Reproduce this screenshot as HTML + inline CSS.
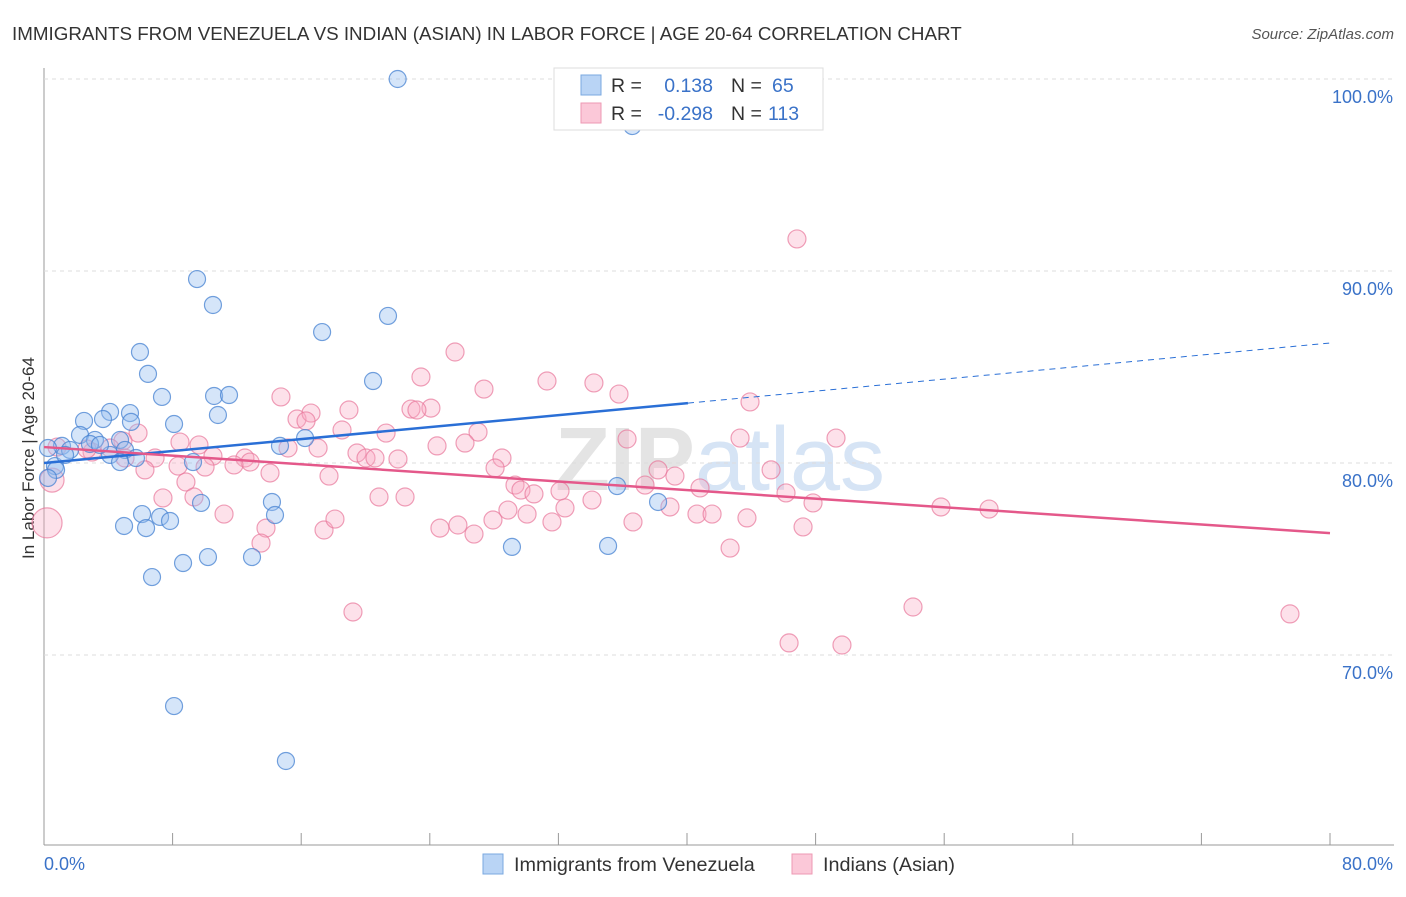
<!DOCTYPE html>
<html><head><meta charset="utf-8"><style>
body{margin:0;background:#fff;font-family:"Liberation Sans",sans-serif}
svg text{font-family:"Liberation Sans",sans-serif}
</style></head><body>
<svg width="1406" height="892" id="c">
<text x="12" y="40" font-size="18.8" fill="#333">IMMIGRANTS FROM VENEZUELA VS INDIAN (ASIAN) IN LABOR FORCE | AGE 20-64 CORRELATION CHART</text>
<text x="1394" y="39" font-size="15" fill="#555" font-style="italic" text-anchor="end">Source: ZipAtlas.com</text>
<text x="720" y="490" font-size="90" fill="#e4e4e4" text-anchor="middle" font-weight="bold">ZIP<tspan fill="#d6e4f5" font-weight="normal">atlas</tspan></text>
<text transform="translate(34,458) rotate(-90)" font-size="17" fill="#333" text-anchor="middle">In Labor Force | Age 20-64</text>
<g id="grid"></g><g id="pts"></g><g id="lines"></g>
<g>
<rect x="554" y="68" width="269" height="62" fill="#fff" stroke="#ddd"/>
<rect x="581" y="75" width="20" height="20" fill="#b9d4f5" stroke="#7aa8e0"/>
<rect x="581" y="103" width="20" height="20" fill="#fbc8d8" stroke="#ee99b3"/>
<text x="611" y="92" font-size="19.5" fill="#333">R =</text>
<text x="713" y="92" font-size="19.5" fill="#3a72c8" text-anchor="end">0.138</text>
<text x="731" y="92" font-size="19.5" fill="#333">N =</text>
<text x="772" y="92" font-size="19.5" fill="#3a72c8">65</text>
<text x="611" y="120" font-size="19.5" fill="#333">R =</text>
<text x="713" y="120" font-size="19.5" fill="#3a72c8" text-anchor="end">-0.298</text>
<text x="731" y="120" font-size="19.5" fill="#333">N =</text>
<text x="768" y="120" font-size="19.5" fill="#3a72c8">113</text>
</g>
<g>
<rect x="483" y="854" width="20" height="20" fill="#b9d4f5" stroke="#7aa8e0"/>
<text x="514" y="871" font-size="19.8" fill="#333">Immigrants from Venezuela</text>
<rect x="792" y="854" width="20" height="20" fill="#fbc8d8" stroke="#ee99b3"/>
<text x="823" y="871" font-size="19.8" fill="#333">Indians (Asian)</text>
</g>
</svg>
<script>
const blueX=[22.0,36.6,9.52,10.51,17.3,21.4,5.97,6.47,20.47,7.34,10.58,11.51,4.11,5.35,10.82,2.49,3.67,5.41,8.09,2.24,3.17,4.73,2.86,1.12,0.25,4.11,5.04,5.72,4.73,0.68,0.75,16.24,14.68,9.27,35.65,38.2,14.18,9.77,14.37,6.1,7.22,7.84,4.98,6.35,29.11,35.09,8.65,10.2,12.94,6.72,8.09,15.05,0.25,1.62,3.48,1.31];
const blueY=[100.0,97.55,89.58,88.23,86.82,87.66,85.78,84.64,84.27,83.44,83.49,83.54,82.66,82.6,82.5,82.19,82.29,82.14,82.03,81.46,81.2,81.2,80.99,80.89,80.78,80.42,80.68,80.26,80.05,79.84,79.64,81.3,80.89,80.05,78.8,77.97,77.97,77.92,77.29,77.34,77.19,76.98,76.72,76.61,75.63,75.68,74.79,75.1,75.1,74.06,67.34,64.48,79.22,80.68,80.94,80.42];
const pinkX=[46.84,25.57,23.45,31.29,34.21,27.37,35.77,14.74,43.92,22.83,24.07,18.97,23.2,15.74,16.61,16.3,18.54,27.0,21.28,36.27,43.3,49.27,5.85,8.46,4.91,15.18,17.05,24.45,26.19,9.64,0.81,2.99,4.11,6.91,10.51,12.5,19.47,20.03,20.59,22.02,28.49,12.82,11.82,8.34,6.28,28.06,14.06,17.73,45.23,38.2,39.25,10.02,29.3,29.67,30.48,32.1,37.39,40.81,8.83,7.4,9.33,20.84,22.46,34.09,28.86,32.41,11.2,13.81,13.5,17.42,18.1,24.63,25.75,26.75,27.93,30.05,31.6,36.64,38.94,40.62,41.56,43.73,46.16,47.84,47.22,42.68,55.8,58.79,19.22,54.06,46.35,49.64,77.51,0.19,0.5,2.67,5.04];
const pinkY=[91.67,85.78,84.48,84.27,84.17,83.85,83.59,83.44,83.18,82.81,82.86,82.76,82.76,82.29,82.6,82.19,81.72,81.61,81.56,81.25,81.3,81.3,81.56,81.09,81.15,80.78,80.78,80.89,81.04,80.94,80.83,80.57,80.78,80.26,80.36,80.26,80.52,80.26,80.26,80.21,80.26,80.05,79.9,79.84,79.64,79.74,79.48,79.32,79.64,79.64,79.32,79.79,78.85,78.59,78.39,78.54,78.85,78.7,79.01,78.18,78.23,78.23,78.23,78.07,77.55,77.66,77.34,76.61,75.83,76.51,77.08,76.61,76.77,76.3,77.03,77.34,76.93,76.93,77.71,77.34,77.34,77.14,78.44,77.92,76.67,75.57,77.71,77.6,72.24,72.5,70.63,70.52,72.14,76.88,79.11,80.73,80.26];
const yTicks=[100,90,80,70];
const xTickLabels=["0.0%","80.0%"];
const blueTrend=[[0,80.0],[40.06,83.12],[80,86.25]];
const pinkTrend=[[0,80.83],[80,76.35]];
const X=v=>44+v*16.075, Y=v=>79+(100-v)*19.2;
const NS="http://www.w3.org/2000/svg";
function mk(p,t,a){const e=document.createElementNS(NS,t);for(const k in a)e.setAttribute(k,a[k]);p.appendChild(e);return e;}
const g=document.getElementById('grid');
let ax=mk(g,'line',{x1:44,y1:68,x2:44,y2:845,stroke:'#999'});

let bx=mk(g,'line',{x1:44,y1:845,x2:1394,y2:845,stroke:'#999'});

for(let i=0;i<=10;i++){const t=mk(g,'line',{x1:X(i*8),x2:X(i*8),y1:845,y2:833,stroke:'#999'});
}
yTicks.forEach(v=>{const l=mk(g,'line',{x1:44,x2:1394,y1:Y(v),y2:Y(v),stroke:'#ddd','stroke-dasharray':'4,4'});

const t=mk(g,'text',{x:1393,y:Y(v)+24,'font-size':18,fill:'#3a72c8','text-anchor':'end'});t.textContent=v.toFixed(1)+'%';
});
const t0=mk(g,'text',{x:44,y:870,'font-size':18,fill:'#3a72c8'});t0.textContent=xTickLabels[0];

const t1=mk(g,'text',{x:1393,y:870,'font-size':18,fill:'#3a72c8','text-anchor':'end'});t1.textContent=xTickLabels[1];

const P=document.getElementById('pts');
pinkX.forEach((x,i)=>{const r=i==pinkX.length-4?15:(i==pinkX.length-3?12:9);
const c=mk(P,'circle',{cx:X(x),cy:Y(pinkY[i]),r:r,fill:'rgba(248,170,196,0.35)',stroke:'rgba(232,120,155,0.7)','stroke-width':1.2});
});
blueX.forEach((x,i)=>{const c=mk(P,'circle',{cx:X(x),cy:Y(blueY[i]),r:8.5,fill:'rgba(150,190,240,0.4)',stroke:'rgba(70,130,210,0.75)','stroke-width':1.2});
});
const L=document.getElementById('lines');
let b1=mk(L,'line',{x1:X(blueTrend[0][0]),y1:Y(blueTrend[0][1]),x2:X(blueTrend[1][0]),y2:Y(blueTrend[1][1]),stroke:'#2a6fd6','stroke-width':2.5});

let b2=mk(L,'line',{x1:X(blueTrend[1][0]),y1:Y(blueTrend[1][1]),x2:X(blueTrend[2][0]),y2:Y(blueTrend[2][1]),stroke:'#2a6fd6','stroke-width':1,'stroke-dasharray':'6,5'});

let p1=mk(L,'line',{x1:X(pinkTrend[0][0]),y1:Y(pinkTrend[0][1]),x2:X(pinkTrend[1][0]),y2:Y(pinkTrend[1][1]),stroke:'#e4588a','stroke-width':2.5});

</script>
</body></html>
